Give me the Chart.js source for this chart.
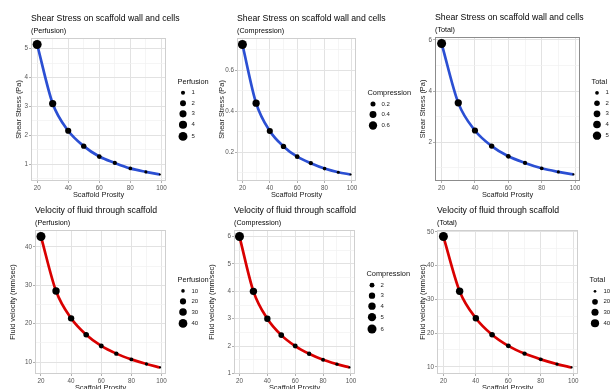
<!DOCTYPE html>
<html><head><meta charset="utf-8">
<script src="https://cdn.jsdelivr.net/npm/chart.js@4.4.0/dist/chart.umd.min.js"></script>
<style>
html,body{margin:0;padding:0;background:#fff;overflow:hidden;width:611px;height:389px}
#wrap{position:relative;width:611px;height:389px;overflow:hidden;background:#fff}
#wrap canvas{position:absolute;left:0;top:0}
</style></head><body><div id="wrap"></div>
<script>
// ---------------- data ----------------
const porosity = [20, 30, 40, 50, 60, 70, 80, 90, 99];
const shearPerfusion = [5.14, 3.10, 2.16, 1.63, 1.27, 1.05, 0.86, 0.74, 0.65];
const shearCompression = [0.726, 0.440, 0.304, 0.229, 0.179, 0.147, 0.121, 0.103, 0.092];
const shearTotal = [5.86, 3.54, 2.46, 1.85, 1.45, 1.19, 0.98, 0.84, 0.74];
const velocityPerfusion = [42.7, 28.5, 21.4, 17.1, 14.2, 12.2, 10.7, 9.5, 8.6];
const velocityCompression = [6.0, 4.0, 3.0, 2.4, 2.0, 1.72, 1.5, 1.34, 1.22];
const velocityTotal = [48.6, 32.4, 24.4, 19.5, 16.2, 13.9, 12.2, 10.8, 9.8];

const xTicks = [20, 40, 60, 80, 100];
const yTicksShearPerfusion = [1, 2, 3, 4, 5];
const yTicksShearCompression = [0.2, 0.4, 0.6];
const yTicksShearTotal = [2, 4, 6];
const yTicksVelocityPerfusion = [10, 20, 30, 40];
const yTicksVelocityCompression = [1, 2, 3, 4, 5, 6];
const yTicksVelocityTotal = [10, 20, 30, 40, 50];

const legendShearPerfusion = [1, 2, 3, 4, 5];
const legendShearCompression = [0.2, 0.4, 0.6];
const legendShearTotal = [1, 2, 3, 4, 5];
const legendVelocityPerfusion = [10, 20, 30, 40];
const legendVelocityCompression = [2, 3, 4, 5, 6];
const legendVelocityTotal = [10, 20, 30, 40];

// ---------------- layout / style ----------------
const BLUE = '#2b4fd3', RED = '#d90000';
const FONT = '"Liberation Sans", Arial, sans-serif';
const CANVAS_H = 400;
const panels = [
  {title:'Shear Stress on scaffold wall and cells', sub:'(Perfusion)', yTitle:'Shear Stress (Pa)', values:shearPerfusion, yTicks:yTicksShearPerfusion, legTitle:'Perfusion', legBreaks:legendShearPerfusion, color:BLUE, area:{l:31,t:38,r:166,b:181}, yW:16.5, xTitleY:195, border:'#cfcfcf'},
  {title:'Shear Stress on scaffold wall and cells', sub:'(Compression)', yTitle:'Shear Stress (Pa)', values:shearCompression, yTicks:yTicksShearCompression, legTitle:'Compression', legBreaks:legendShearCompression, color:BLUE, area:{l:237,t:38,r:356,b:181}, yW:19.8, xTitleY:195, border:'#cfcfcf'},
  {title:'Shear Stress on scaffold wall and cells', sub:'(Total)', yTitle:'Shear Stress (Pa)', values:shearTotal, yTicks:yTicksShearTotal, legTitle:'Total', legBreaks:legendShearTotal, color:BLUE, area:{l:435,t:37,r:580,b:181}, yW:16, xTitleY:195, border:'#8c8c8c'},
  {title:'Velocity of fluid through scaffold', sub:'(Perfusion)', yTitle:'Fluid velocity (mm/sec)', values:velocityPerfusion, yTicks:yTicksVelocityPerfusion, legTitle:'Perfusion', legBreaks:legendVelocityPerfusion, color:RED, area:{l:35,t:230,r:166,b:374}, yW:26.8, xTitleY:387.5, border:'#cfcfcf'},
  {title:'Velocity of fluid through scaffold', sub:'(Compression)', yTitle:'Fluid velocity (mm/sec)', values:velocityCompression, yTicks:yTicksVelocityCompression, legTitle:'Compression', legBreaks:legendVelocityCompression, color:RED, area:{l:234,t:230,r:355,b:374}, yW:26.8, xTitleY:387.5, border:'#cfcfcf'},
  {title:'Velocity of fluid through scaffold', sub:'(Total)', yTitle:'Fluid velocity (mm/sec)', values:velocityTotal, yTicks:yTicksVelocityTotal, legTitle:'Total', legBreaks:legendVelocityTotal, color:RED, area:{l:437,t:230,r:578,b:374}, yW:18.2, xTitleY:387.5, border:'#cfcfcf'}
];

function expandRange(arr){
  const mn = Math.min(...arr), mx = Math.max(...arr), d = mx - mn;
  return [mn - 0.05*d, mx + 0.05*d];
}
function allTicks(majors, min, max){
  const step = majors[1] - majors[0];
  const out = [];
  const cand = [majors[0] - step/2];
  majors.forEach(m => { cand.push(m); cand.push(m + step/2); });
  cand.forEach(v => { if (v >= min - 1e-9 && v <= max + 1e-9) out.push(v); });
  return out;
}
function isMajor(v, majors){ return majors.some(m => Math.abs(m - v) < 1e-9); }

const wrap = document.getElementById('wrap');
const AX_TITLE_SIZE = 7.4, AX_LH = 1.2;

panels.forEach((p, idx) => {
  const cv = document.createElement('canvas');
  cv.width = 611; cv.height = CANVAS_H;
  cv.style.width = '611px'; cv.style.height = CANVAS_H + 'px';
  wrap.appendChild(cv);

  const [xmin, xmax] = expandRange(porosity);
  const [ymin, ymax] = expandRange(p.values);
  const vmin = Math.min(...p.values), vmax = Math.max(...p.values);
  const rad = v => {
    let t = (v - vmin) / (vmax - vmin);
    t = Math.max(0, Math.min(1, t));
    return 1.1 + 3.4 * Math.sqrt(t);
  };
  const a = p.area;
  const xH = (p.xTitleY + AX_TITLE_SIZE*AX_LH/2) - a.b;
  const padBottom = CANVAS_H - a.b - xH;

  const gridMajor = '#e2e2e2', gridMinor = '#f0f0f0';

  const decor = {
    id: 'decor' + idx,
    afterDraw(chart){
      const ctx = chart.ctx, ca = chart.chartArea;
      ctx.save();
      // panel border
      ctx.strokeStyle = p.border; ctx.lineWidth = 1;
      ctx.strokeRect(ca.left + 0.5, ca.top + 0.5, ca.right - ca.left - 1, ca.bottom - ca.top - 1);
      // titles
      ctx.fillStyle = '#050505';
      ctx.textAlign = 'left'; ctx.textBaseline = 'middle';
      ctx.font = '8.7px ' + FONT;
      ctx.fillText(p.title, ca.left, ca.top - 19);
      ctx.font = '7.2px ' + FONT;
      ctx.fillText(p.sub, ca.left, ca.top - 7);
      // size legend
      const keys = p.legBreaks.map(v => { const r = rad(v); return {v, r, h: Math.max(10.5, 2*r + 3.2)}; });
      const titleBlock = 11;
      const total = titleBlock + keys.reduce((s,k)=>s+k.h, 0);
      const cy = (ca.top + ca.bottom) / 2;
      let y = cy - total/2;
      const lx = ca.right + 11.5;
      ctx.font = '7.4px ' + FONT; ctx.fillStyle = '#111';
      ctx.fillText(p.legTitle, lx, y + 5);
      y += titleBlock;
      keys.forEach(k => {
        const yc = y + k.h/2;
        ctx.beginPath(); ctx.fillStyle = '#000';
        ctx.arc(lx + 5.5, yc, k.r, 0, Math.PI*2); ctx.fill();
        ctx.font = '6px ' + FONT; ctx.fillStyle = '#222';
        ctx.fillText(String(k.v), lx + 14, yc);
        y += k.h;
      });
      ctx.restore();
    }
  };

  new Chart(cv, {
    type: 'line',
    data: {
      datasets: [{
        data: porosity.map((x, i) => ({x, y: p.values[i]})),
        borderColor: p.color,
        borderWidth: 2.7,
        cubicInterpolationMode: 'monotone',
        fill: false,
        pointRadius: c => c.raw ? rad(c.raw.y) : 2,
        pointHoverRadius: c => c.raw ? rad(c.raw.y) : 2,
        pointBackgroundColor: '#000',
        pointBorderColor: '#000',
        pointBorderWidth: 0,
        clip: false
      }]
    },
    options: {
      responsive: false,
      animation: false,
      devicePixelRatio: 1,
      events: [],
      layout: { padding: { left: a.l - p.yW, right: 611 - a.r, top: a.t, bottom: padBottom } },
      plugins: { legend: {display:false}, tooltip: {enabled:false}, title: {display:false} },
      scales: {
        x: {
          type: 'linear', min: xmin, max: xmax,
          afterBuildTicks: s => { s.ticks = allTicks(xTicks, xmin, xmax).map(v => ({value: v})); },
          afterFit: s => { s.height = xH; },
          ticks: {
            autoSkip: false, maxRotation: 0, minRotation: 0, padding: 1,
            font: {family: FONT, size: 6.3}, color: '#555',
            callback: v => isMajor(v, xTicks) ? String(v) : ''
          },
          grid: {
            color: c => (c.tick && isMajor(c.tick.value, xTicks)) ? gridMajor : gridMinor,
            lineWidth: c => (c.tick && isMajor(c.tick.value, xTicks)) ? 1 : 0.7,
            tickLength: 2,
            tickColor: c => (c.tick && isMajor(c.tick.value, xTicks)) ? '#b0b0b0' : 'rgba(0,0,0,0)'
          },
          border: {display: false},
          title: {display: true, text: 'Scaffold Prosity', font: {family: FONT, size: AX_TITLE_SIZE, lineHeight: AX_LH}, color: '#222', padding: 0}
        },
        y: {
          type: 'linear', min: ymin, max: ymax,
          afterBuildTicks: s => { s.ticks = allTicks(p.yTicks, ymin, ymax).map(v => ({value: v})); },
          afterFit: s => { s.width = p.yW; },
          ticks: {
            autoSkip: false, padding: 1,
            font: {family: FONT, size: 6.3}, color: '#555',
            callback: v => { const m = p.yTicks.find(t => Math.abs(t - v) < 1e-9); return m !== undefined ? String(m) : ''; }
          },
          grid: {
            color: c => (c.tick && isMajor(c.tick.value, p.yTicks)) ? gridMajor : gridMinor,
            lineWidth: c => (c.tick && isMajor(c.tick.value, p.yTicks)) ? 1 : 0.7,
            tickLength: 2,
            tickColor: c => (c.tick && isMajor(c.tick.value, p.yTicks)) ? '#b0b0b0' : 'rgba(0,0,0,0)'
          },
          border: {display: false},
          title: {display: true, text: p.yTitle, font: {family: FONT, size: AX_TITLE_SIZE, lineHeight: AX_LH}, color: '#222', padding: 0}
        }
      }
    },
    plugins: [decor]
  });
});
</script>
</body></html>
